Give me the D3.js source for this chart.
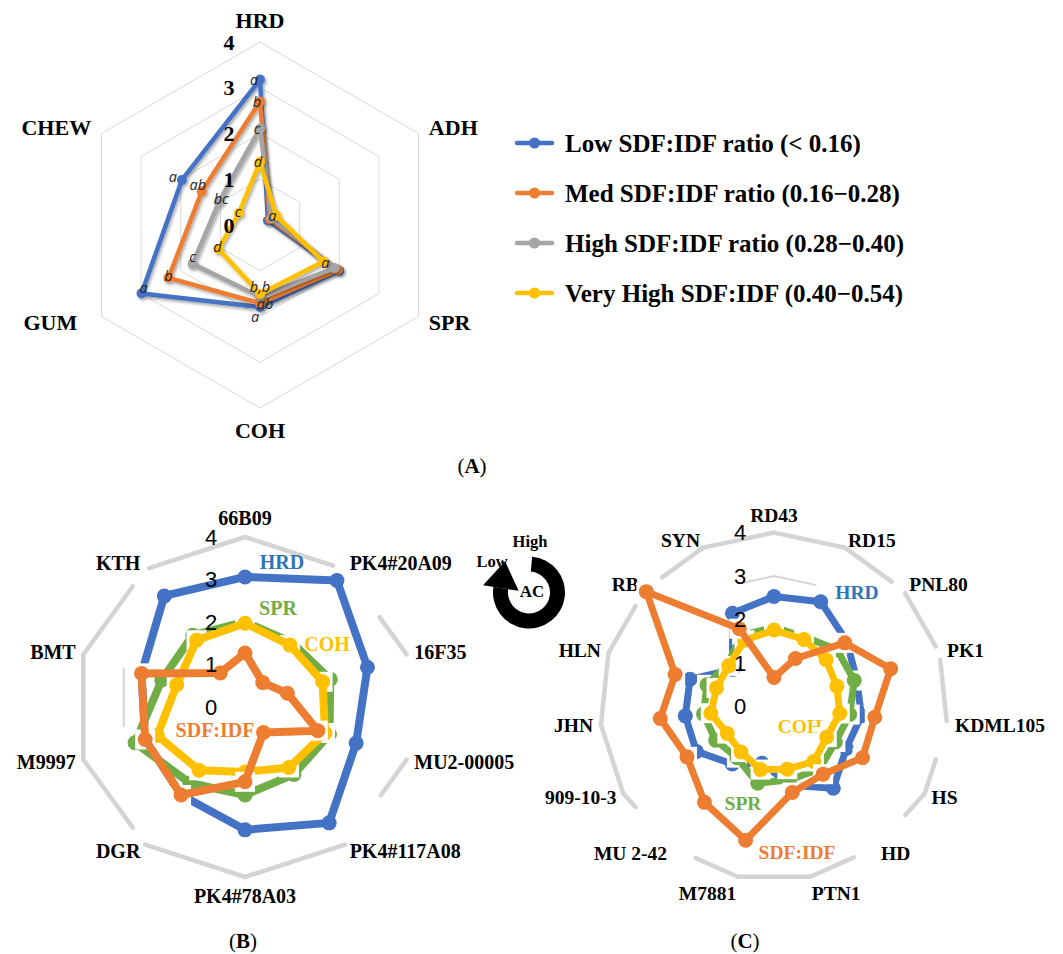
<!DOCTYPE html>
<html>
<head>
<meta charset="utf-8">
<script src="https://cdn.jsdelivr.net/npm/d3@7"></script>
<style>
  html, body { margin: 0; padding: 0; background: #fff; }
  svg { display: block; }
</style>
</head>
<body>
<svg id="chart" width="1063" height="954"></svg>
<script>
// ---------- Panel A: texture attributes by SDF:IDF ratio group ----------
const axesA = ["HRD", "ADH", "SPR", "COH", "GUM", "CHEW"];
const lowRatio      = [3.18, 0.20, 2.00, 1.79, 2.99, 1.97];
const medRatio      = [2.70, 0.25, 1.96, 1.71, 2.31, 1.47];
const highRatio     = [2.11, 0.30, 1.88, 1.57, 1.70, 1.03];
const veryHighRatio = [1.38, 0.41, 1.60, 1.51, 1.05, 0.53];
// significance letters per group, in axis order
const lettersLow      = ["a", "", "", "a", "a", "a"];
const lettersMed      = ["b", "", "", "ab", "b", "ab"];
const lettersHigh     = ["c", "", "", "", "c", "bc"];
const lettersVeryHigh = ["d", "a", "a", "b,b", "d", "c"];
const groupNamesA = [
  "Low SDF:IDF ratio (< 0.16)",
  "Med SDF:IDF ratio (0.16\u22120.28)",
  "High SDF:IDF ratio (0.28\u22120.40)",
  "Very High SDF:IDF (0.40\u22120.54)"
];
const scaleTicks = [0, 1, 2, 3, 4];

// ---------- Panel B: cultivars, low amylose ----------
const cultivarsB = ["66B09", "PK4#20A09", "16F35", "MU2-00005", "PK4#117A08",
                    "PK4#78A03", "DGR", "M9997", "BMT", "KTH"];
const hrdB   = [3.06, 3.68, 3.03, 2.75, 3.37, 2.89, 2.56, 2.47, 2.56, 3.23];
const sprB   = [2.00, 1.88, 2.11, 2.09, 1.96, 2.07, 2.21, 2.72, 2.06, 2.09];
const cohB   = [1.97, 1.80, 1.92, 1.98, 1.76, 1.53, 1.84, 2.17, 1.69, 1.94];
const ratioB = [1.27, 0.71, 1.05, 1.80, 0.74, 1.76, 2.56, 2.47, 2.56, 0.99];

// ---------- Panel C: cultivars, high amylose ----------
const cultivarsC = ["RD43", "RD15", "PNL80", "PK1", "KDML105", "HS", "HD", "PTN1",
                    "M7881", "MU 2-42", "909-10-3", "JHN", "HLN", "RB", "SYN"];
const hrdC   = [2.53, 2.64, 2.25, 2.00, 2.02, 1.92, 2.32, 1.85, 1.33, 1.63, 2.06, 2.05, 2.03, 1.28, 2.35];
const sprC   = [1.82, 1.75, 1.95, 1.94, 1.75, 1.63, 1.78, 1.72, 1.80, 1.45, 1.55, 1.63, 1.62, 1.45, 1.80];
const cohC   = [1.76, 1.69, 1.61, 1.52, 1.52, 1.40, 1.56, 1.47, 1.48, 1.29, 1.24, 1.46, 1.39, 1.40, 1.67];
const ratioC = [0.67, 1.21, 2.19, 2.82, 2.33, 2.35, 1.92, 2.02, 3.14, 2.72, 2.31, 2.63, 2.39, 3.95, 1.96];
const traitNames = ["HRD", "SPR", "COH", "SDF:IDF"];

// ---------- styling ----------
const C_BLUE = "#4472C4", C_ORANGE = "#ED7D31", C_GRAY = "#A5A5A5",
      C_YELLOW = "#FFC000", C_GREEN = "#70AD47";
const SERIF = "'Liberation Serif','Times New Roman',serif";
const SANS = "'Liberation Sans',Arial,sans-serif";
const ITALIC = "'Open Sans',sans-serif";
const TAU = Math.PI * 2;

const svg = d3.select("#chart");
svg.append("rect").attr("width", 1063).attr("height", 954).attr("fill", "#fff");

const defs = svg.append("defs");
defs.append("filter").attr("id", "lineShadow")
  .attr("x", "-20%").attr("y", "-20%").attr("width", "140%").attr("height", "140%")
  .append("feDropShadow")
  .attr("dx", 1.5).attr("dy", 2).attr("stdDeviation", 1.4)
  .attr("flood-color", "#000").attr("flood-opacity", 0.35);

const angleScale = n => d3.scaleLinear().domain([0, n]).range([0, TAU]);

// Axis title placed just outside the ring; top/bottom titles get an extra vertical push
function axisLabel(g, ang, rad, text, size, poleShift, nudge) {
  const [px, py] = d3.pointRadial(ang, rad);
  const s = Math.sin(ang), c = Math.cos(ang);
  const anchor = s > 0.1 ? "start" : s < -0.1 ? "end" : "middle";
  const dy = Math.abs(c) > 0.95 ? -Math.sign(c) * poleShift : 0;
  g.append("text")
    .attr("x", px + (nudge || 0))
    .attr("y", py + dy)
    .attr("text-anchor", anchor)
    .attr("dominant-baseline", "central")
    .attr("font-family", SERIF).attr("font-weight", "bold")
    .attr("font-size", size).attr("fill", "#000")
    .text(text);
}

// ================= Panel A =================
(function drawPanelA() {
  const cx = 260, cy = 225, R = 183;
  const g = svg.append("g").attr("transform", `translate(${cx},${cy})`);
  const r = d3.scaleLinear().domain([0, 4]).range([0, R]);
  const ang = angleScale(axesA.length);

  // hexagonal gridlines
  scaleTicks.slice(1).forEach(t => {
    g.append("path")
      .attr("d", d3.lineRadial().angle((d, i) => ang(i)).radius(r(t))
        .curve(d3.curveLinearClosed)(axesA))
      .attr("fill", "none").attr("stroke", "#D9D9D9").attr("stroke-width", 1);
  });

  // axis titles
  axesA.forEach((name, i) => {
    axisLabel(g, ang(i), R + 12, name, 22, 10, name === "GUM" ? -14 : 0);
  });

  const series = [
    { values: lowRatio, color: C_BLUE, letters: lettersLow,
      nudge: [[-6, 0], [0, 0], [0, 0], [-5, 10], [2, -6], [-9, -3]] },
    { values: medRatio, color: C_ORANGE, letters: lettersMed,
      nudge: [[-3, 0], [0, 0], [0, 0], [5, 0], [0, -2], [-4, -7]] },
    { values: highRatio, color: C_GRAY, letters: lettersHigh,
      nudge: [[-3, 0], [0, 0], [0, 0], [0, 0], [0, -7], [2, -3]] },
    { values: veryHighRatio, color: C_YELLOW, letters: lettersVeryHigh,
      nudge: [[-2, 0], [-4, 0], [2, 1], [0, -8], [-1, -3], [-1, -1]] }
  ];
  const line = d3.lineRadial().angle((d, i) => ang(i)).radius(d => r(d))
    .curve(d3.curveLinearClosed);

  series.forEach(s => {
    const sg = g.append("g").attr("filter", "url(#lineShadow)");
    sg.append("path").attr("d", line(s.values))
      .attr("fill", "none").attr("stroke", s.color)
      .attr("stroke-width", 4.5).attr("stroke-linejoin", "round");
    sg.selectAll("circle").data(s.values).join("circle")
      .attr("cx", (d, i) => d3.pointRadial(ang(i), r(d))[0])
      .attr("cy", (d, i) => d3.pointRadial(ang(i), r(d))[1])
      .attr("r", 5).attr("fill", s.color);
  });

  // significance letters
  series.forEach(s => {
    s.values.forEach((v, i) => {
      if (!s.letters[i]) return;
      const [px, py] = d3.pointRadial(ang(i), r(v));
      g.append("text")
        .attr("x", px + s.nudge[i][0]).attr("y", py + s.nudge[i][1])
        .attr("text-anchor", "middle").attr("dominant-baseline", "central")
        .attr("font-family", ITALIC).attr("font-style", "italic")
        .attr("font-size", 14.5).attr("fill", "#262626")
        .text(s.letters[i]);
    });
  });

  // radial scale values
  scaleTicks.forEach(t => {
    g.append("text").attr("x", -31).attr("y", -r(t))
      .attr("text-anchor", "middle").attr("dominant-baseline", "central")
      .attr("font-family", SERIF).attr("font-weight", "bold")
      .attr("font-size", 22).attr("fill", "#000").text(t);
  });

  // legend
  const lg = svg.append("g").attr("transform", "translate(517,143)");
  const colorsA = [C_BLUE, C_ORANGE, C_GRAY, C_YELLOW];
  groupNamesA.forEach((name, i) => {
    const row = lg.append("g").attr("transform", `translate(0,${i * 50})`);
    row.append("line").attr("x1", 0).attr("x2", 35).attr("y1", 0).attr("y2", 0)
      .attr("stroke", colorsA[i]).attr("stroke-width", 4.5).attr("stroke-linecap", "round");
    row.append("circle").attr("cx", 17.5).attr("cy", 0).attr("r", 5.5).attr("fill", colorsA[i]);
    row.append("text").attr("x", 48).attr("y", 0)
      .attr("dominant-baseline", "central")
      .attr("font-family", SERIF).attr("font-weight", "bold")
      .attr("font-size", 25).attr("fill", "#000").text(name);
  });
})();

// ================= Panels B and C =================
function drawCultivarRadar(cfg) {
  const g = svg.append("g").attr("transform", `translate(${cfg.cx},${cfg.cy})`);
  const r = d3.scaleLinear().domain([0, 4]).range([0, cfg.R]);
  const n = cfg.axes.length;
  const ang = angleScale(n);
  const vertex = (i, t) => d3.pointRadial(ang(i % n), r(t));
  const lerp = (a, b, t) => [a[0] + (b[0] - a[0]) * t, a[1] + (b[1] - a[1]) * t];

  // outer ring, broken where the cultivar names sit
  cfg.outerVisible.forEach((span, i) => {
    if (!span) return;
    const a = vertex(i, 4), b = vertex(i + 1, 4);
    const p0 = lerp(a, b, span[0]), p1 = lerp(a, b, span[1]);
    g.append("line").attr("x1", p0[0]).attr("y1", p0[1]).attr("x2", p1[0]).attr("y2", p1[1])
      .attr("stroke", "#D4D4D4").attr("stroke-width", 4.5).attr("stroke-linecap", "round");
  });
  // remaining piece of the inner gridline
  cfg.gridPieces.forEach(([i, t0, t1]) => {
    const a = vertex(i, 3), b = vertex(i + 1, 3);
    const p0 = lerp(a, b, t0), p1 = lerp(a, b, t1);
    g.append("line").attr("x1", p0[0]).attr("y1", p0[1]).attr("x2", p1[0]).attr("y2", p1[1])
      .attr("stroke", "#D4D4D4").attr("stroke-width", 2);
  });

  // cultivar names
  cfg.axes.forEach((name, i) => axisLabel(g, ang(i), cfg.R + 8, name, cfg.labelSize, cfg.poleShift, 0));

  // trait names
  cfg.traits.forEach(t => {
    g.append("text").attr("x", t.at[0]).attr("y", t.at[1])
      .attr("text-anchor", "middle").attr("dominant-baseline", "central")
      .attr("font-family", SERIF).attr("font-weight", "bold")
      .attr("font-size", cfg.labelSize).attr("fill", t.color).text(t.name);
  });

  const line = d3.lineRadial().angle((d, i) => ang(i)).radius(d => r(d))
    .curve(d3.curveLinearClosed);

  cfg.series.forEach(s => {
    const pts = s.values.map((v, i) => d3.pointRadial(ang(i), r(v)));
    const sg = g.append("g");
    sg.selectAll("rect").data(pts).join("rect")
      .attr("x", d => d[0] - cfg.square / 2).attr("y", d => d[1] - cfg.square / 2)
      .attr("width", cfg.square).attr("height", cfg.square).attr("fill", "#fff");
    sg.append("path").attr("d", line(s.values))
      .attr("fill", "none").attr("stroke", s.color)
      .attr("stroke-width", cfg.lineW).attr("stroke-linejoin", "round");
    sg.selectAll("circle").data(pts).join("circle")
      .attr("cx", d => d[0]).attr("cy", d => d[1])
      .attr("r", cfg.dot).attr("fill", s.color);
  });

  // radial scale values
  scaleTicks.forEach(t => {
    g.append("text").attr("x", -34).attr("y", -r(t))
      .attr("text-anchor", "middle").attr("dominant-baseline", "central")
      .attr("font-family", SANS).attr("font-size", 22).attr("fill", "#000").text(t);
  });
}

drawCultivarRadar({
  cx: 245, cy: 707, R: 170, axes: cultivarsB, labelSize: 20, poleShift: 11,
  lineW: 8, dot: 7.5, square: 20,
  outerVisible: [[0, 0.88], [0.56, 1], null, [0, 0.42], [0, 1], [0, 1],
                 [0.2, 1], [0, 1], [0, 0.8], [0.04, 1]],
  gridPieces: [[7, 0.25, 1]],
  series: [
    { values: hrdB, color: C_BLUE },
    { values: sprB, color: C_GREEN },
    { values: cohB, color: C_YELLOW },
    { values: ratioB, color: C_ORANGE }
  ],
  traits: [
    { name: traitNames[0], color: "#2E75B6", at: [37, -145] },
    { name: traitNames[1], color: C_GREEN, at: [33, -99] },
    { name: traitNames[2], color: C_YELLOW, at: [82, -63] },
    { name: traitNames[3], color: C_ORANGE, at: [-30, 23] }
  ]
});

drawCultivarRadar({
  cx: 774, cy: 706.6, R: 174, axes: cultivarsC, labelSize: 19.5, poleShift: 9,
  lineW: 7, dot: 7.5, square: 20,
  outerVisible: [[0, 1], [0, 0.8], [0.05, 0.9], [0.1, 0.95], [0.5, 1], [0, 0.4],
                 [0.34, 1], [0, 1], [0, 0.64], [0.75, 1], [0, 1], [0, 1],
                 [0, 0.75], [0.3, 1], [0, 1]],
  gridPieces: [[14, 0.36, 1], [0, 0, 0.8]],
  series: [
    { values: hrdC, color: C_BLUE },
    { values: sprC, color: C_GREEN },
    { values: cohC, color: C_YELLOW },
    { values: ratioC, color: C_ORANGE }
  ],
  traits: [
    { name: traitNames[0], color: "#2E75B6", at: [83, -114] },
    { name: traitNames[1], color: C_GREEN, at: [-31, 97] },
    { name: traitNames[2], color: C_YELLOW, at: [26, 20] },
    { name: traitNames[3], color: C_ORANGE, at: [23, 146] }
  ]
});

// ---------- amylose content direction badge ----------
(function drawBadge() {
  const cx = 529, cy = 592.5;
  const g = svg.append("g").attr("transform", `translate(${cx},${cy})`);
  const a0 = 5 * Math.PI / 180, a1 = 279 * Math.PI / 180;
  g.append("path")
    .attr("d", d3.arc().innerRadius(21).outerRadius(36).startAngle(a0).endAngle(a1)())
    .attr("fill", "#000");
  const mid = d3.pointRadial(a1, 28.5);
  const tan = [Math.cos(a1), Math.sin(a1)];
  const nrm = [Math.sin(a1), -Math.cos(a1)];
  const head = [
    [mid[0] + nrm[0] * 18, mid[1] + nrm[1] * 18],
    [mid[0] - nrm[0] * 18, mid[1] - nrm[1] * 18],
    [mid[0] + tan[0] * 27, mid[1] + tan[1] * 27]
  ];
  g.append("path").attr("d", d3.line()(head) + "Z").attr("fill", "#000");
  const txt = (x, y, s, size) => g.append("text").attr("x", x).attr("y", y)
    .attr("text-anchor", "middle").attr("dominant-baseline", "central")
    .attr("font-family", SERIF).attr("font-weight", "bold")
    .attr("font-size", size).attr("fill", "#000").text(s);
  txt(1, -51, "High", 16.5);
  txt(-37, -31, "Low", 16.5);
  txt(3, -1, "AC", 17);
})();

// ---------- panel captions ----------
[["A", 472], ["B", 243], ["C", 745]].forEach(([letter, x], i) => {
  const y = i === 0 ? 473 : 948;
  const t = svg.append("text").attr("x", x).attr("y", y)
    .attr("text-anchor", "middle")
    .attr("font-family", SERIF).attr("font-size", 21).attr("fill", "#000");
  t.append("tspan").text("(");
  t.append("tspan").attr("font-weight", "bold").text(letter);
  t.append("tspan").text(")");
});
</script>
</body>
</html>
